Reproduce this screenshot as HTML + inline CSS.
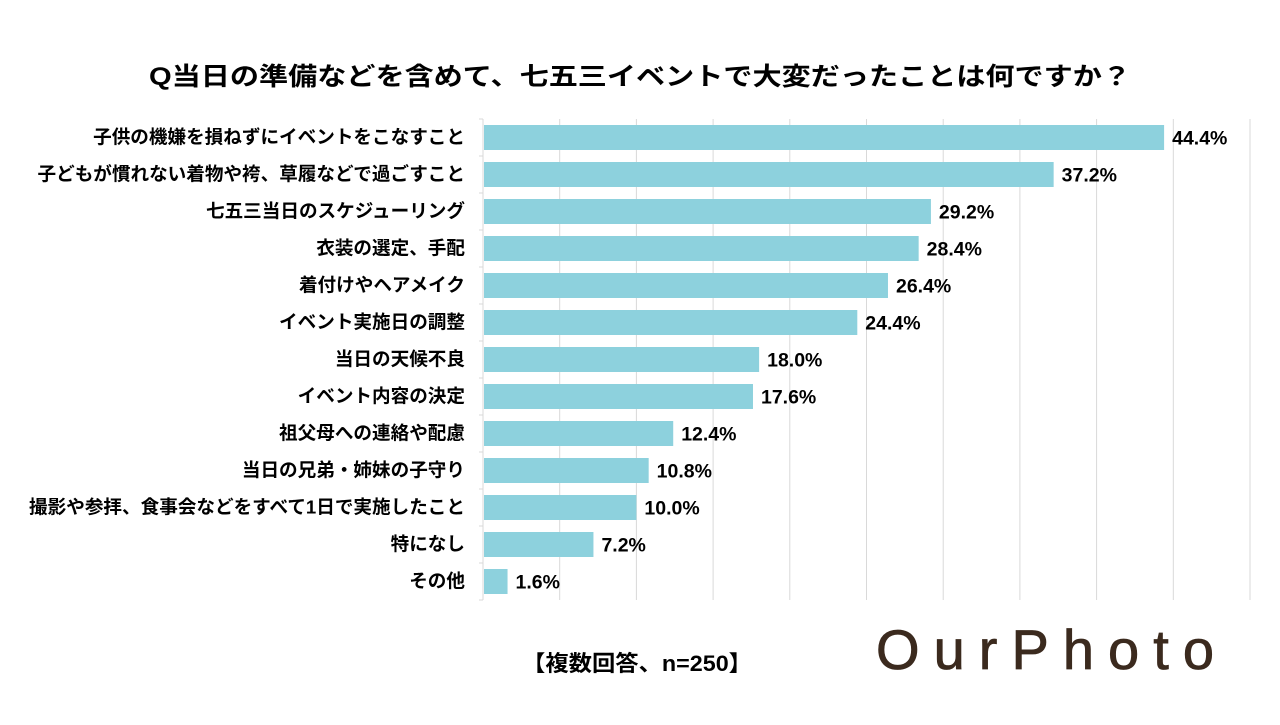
<!DOCTYPE html>
<html><head><meta charset="utf-8"><style>
body{margin:0;background:#fff;}
svg text{font-family:"Liberation Sans","Noto Sans CJK JP",sans-serif;}
</style></head><body>
<svg id="c" width="1280" height="720">
<text x="640" y="85" text-anchor="middle" font-size="25" font-weight="bold" fill="#000" textLength="982" lengthAdjust="spacingAndGlyphs">Q当日の準備などを含めて、七五三イベントで大変だったことは何ですか？</text>
<g id="grid"></g><g id="bars"></g>
<text x="637" y="671" text-anchor="middle" font-size="22" font-weight="bold" fill="#000" textLength="230" lengthAdjust="spacingAndGlyphs">【複数回答、n=250】</text>
<text x="876" y="669" font-size="56" fill="#3b2a1e" stroke="#3b2a1e" stroke-width="0.8" textLength="338" lengthAdjust="spacing">OurPhoto</text>
</svg>
<script>
const categories=["子供の機嫌を損ねずにイベントをこなすこと","子どもが慣れない着物や袴、草履などで過ごすこと","七五三当日のスケジューリング","衣装の選定、手配","着付けやヘアメイク","イベント実施日の調整","当日の天候不良","イベント内容の決定","祖父母への連絡や配慮","当日の兄弟・姉妹の子守り","撮影や参拝、食事会などをすべて1日で実施したこと","特になし","その他"];
const values=[44.4,37.2,29.2,28.4,26.4,24.4,18.0,17.6,12.4,10.8,10.0,7.2,1.6];
const gridTicks=[0,5,10,15,20,25,30,35,40,45,50];
const NS="http://www.w3.org/2000/svg";
const x0=483,x1=1250,maxV=50,plotTop=119,band=37,bh=25;
const xs=v=>x0+(x1-x0)*v/maxV;
function mk(t,a,p){const e=document.createElementNS(NS,t);for(const k in a)e.setAttribute(k,a[k]);p.appendChild(e);return e;}
const g=document.getElementById('grid'),b=document.getElementById('bars');
const plotBottom=plotTop+band*categories.length;
gridTicks.forEach(t=>{if(t===0)return;const l=mk('line',{x1:xs(t),x2:xs(t),y1:plotTop,y2:plotBottom,stroke:'#d9d9d9','stroke-width':1},g);

});
const ax=mk('line',{x1:x0,x2:x0,y1:plotTop,y2:plotBottom,stroke:'#d9d9d9','stroke-width':1},g);


for(let i=0;i<=categories.length;i++){const tk=mk('line',{x1:x0-4,x2:x0,y1:plotTop+i*band,y2:plotTop+i*band,stroke:'#d9d9d9'},g);

}
categories.forEach((c,i)=>{const cy=plotTop+i*band+band/2;
const r=mk('rect',{x:x0+1,y:cy-bh/2,width:xs(values[i])-x0-1,height:bh,fill:'#8dd1dd'},b);


const l=mk('text',{x:465,y:cy+6,'text-anchor':'end','font-size':18.6,'font-weight':'bold',fill:'#000'},b);l.textContent=c;


const v=mk('text',{x:xs(values[i])+8,y:cy+7,'font-size':19.5,'font-weight':'bold',fill:'#000'},b);v.textContent=values[i].toFixed(1)+'%';

});
</script>
</body></html>
